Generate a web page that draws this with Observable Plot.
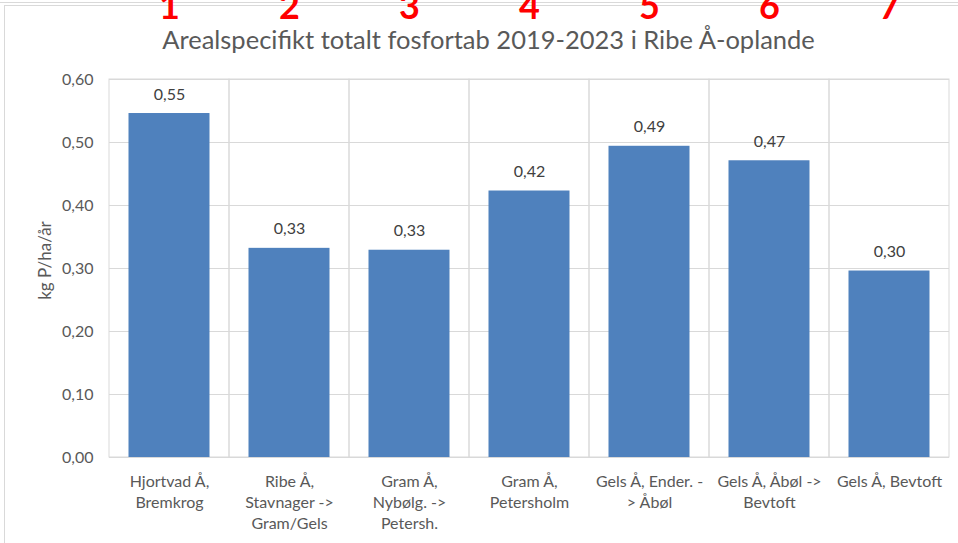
<!DOCTYPE html>
<html>
<head>
<meta charset="utf-8">
<script src="https://cdn.jsdelivr.net/npm/d3@7"></script>
<script src="https://cdn.jsdelivr.net/npm/@observablehq/plot@0.6"></script>
<style>
  html, body { margin: 0; padding: 0; background: #fff; }
  #wrap { position: relative; width: 958px; height: 543px; overflow: hidden; }
  #topline { position: absolute; left: 0; top: 2px; width: 958px; height: 0; border-top: 1px solid #d9d9d9; }
  #frame { position: absolute; left: 4px; top: 5px; width: 1000px; height: 600px; border-left: 1px solid #d9d9d9; border-top: 1px solid #d9d9d9; }
  #chart { position: absolute; left: 0; top: 0; }
</style>
</head>
<body>
<div id="wrap">
  <div id="topline"></div>
  <div id="frame"></div>
  <div id="chart"></div>
</div>
<script>
const categories = [
  "Hjortvad Å,\nBremkrog",
  "Ribe Å,\nStavnager ->\nGram/Gels",
  "Gram Å,\nNybølg. ->\nPetersh.",
  "Gram Å,\nPetersholm",
  "Gels Å, Ender. -\n> Åbøl",
  "Gels Å, Åbøl ->\nBevtoft",
  "Gels Å, Bevtoft"
];
const values = [0.546, 0.332, 0.329, 0.423, 0.494, 0.471, 0.296];
const markers = ["1", "2", "3", "4", "5", "6", "7"];
const yTicks = [0, 0.1, 0.2, 0.3, 0.4, 0.5, 0.6];
const title = "Arealspecifikt totalt fosfortab 2019-2023 i Ribe Å-oplande";
const yTitle = "kg P/ha/år";

const data = categories.map((c, i) => ({cat: c, value: values[i], marker: markers[i]}));
const fmt = v => d3.format(".2f")(v).replace(".", ",");

const chart = Plot.plot({
  width: 958,
  height: 543,
  marginTop: 79,
  marginBottom: 86,
  marginLeft: 109,
  marginRight: 9,
  style: {fontFamily: "Lato, 'Open Sans', sans-serif", fontSize: "16px", color: "#595959", background: "transparent", overflow: "visible"},
  x: {domain: categories, padding: 0, label: null},
  y: {domain: [0, 0.6], label: null},
  marks: [
    Plot.ruleY(yTicks, {stroke: "#d9d9d9", strokeWidth: 1}),
    Plot.barY(categories, {x: d => d, y1: 0, y2: 0.6, fill: "none", stroke: "#d9d9d9"}),
    Plot.barY(data, {x: "cat", y: "value", fill: "#4f81bd", insetLeft: 19.5, insetRight: 19.5}),
    Plot.axisX({tickSize: 0, tickPadding: 15, fontSize: 16, lineHeight: 1.31, fill: "#595959", label: null}),
    Plot.axisY({ticks: yTicks, tickFormat: fmt, tickSize: 0, tickPadding: 16, fontSize: 16, fill: "#595959", label: null}),
    Plot.text(data, {x: "cat", y: "value", text: d => fmt(d.value), dy: -19, fill: "#404040", fontSize: 16}),
    Plot.text(data, {x: "cat", text: "marker", frameAnchor: "top", lineAnchor: "bottom", dy: -61, fill: "#ff0000", fontWeight: "bold", fontSize: 36}),
    Plot.text([title], {text: d => d, frameAnchor: "top", lineAnchor: "middle", dx: -41, dy: -39, fontSize: 25.5, fill: "#595959"}),
    Plot.text([yTitle], {text: d => d, frameAnchor: "left", textAnchor: "middle", lineAnchor: "middle", dx: -64, dy: -8, rotate: -90, fontSize: 17, fill: "#595959"})
  ]
});
document.getElementById("chart").appendChild(chart);
</script>
</body>
</html>
